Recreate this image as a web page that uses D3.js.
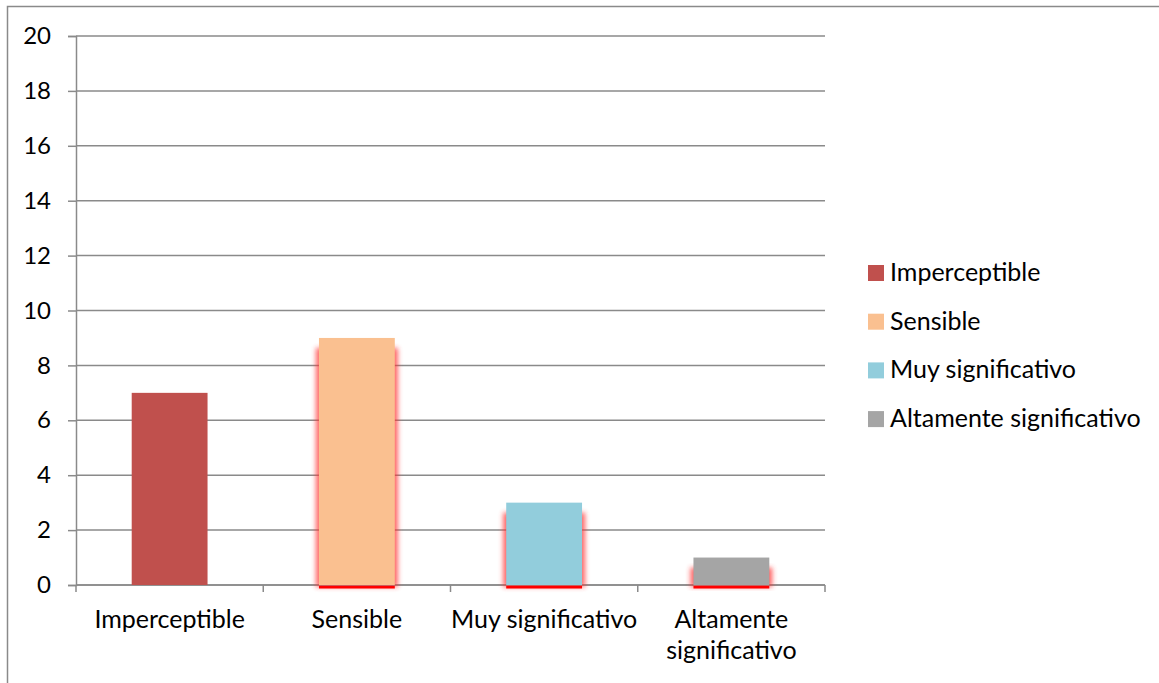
<!DOCTYPE html>
<html>
<head>
<meta charset="utf-8">
<script src="https://cdn.jsdelivr.net/npm/d3@7"></script>
<style>
  body { margin: 0; background: #fff; }
  text { font-family: Lato, "Open Sans", sans-serif; fill: #000; }
</style>
</head>
<body>
<svg id="drawing_region"></svg>
<script>
const categories = ["Imperceptible", "Sensible", "Muy significativo", "Altamente significativo"];
const values = [7, 9, 3, 1];
const colors = ["#C0504D", "#FAC090", "#92CDDC", "#A5A5A5"];
const glow = [false, true, true, true];
const yTicks = [0, 2, 4, 6, 8, 10, 12, 14, 16, 18, 20];

const config = {
    width: 1159,
    height: 683,
    margin: {top: 36, right: 334, bottom: 98, left: 76}
};

const svg = d3.select('#drawing_region')
    .attr('width', config.width)
    .attr('height', config.height);

const inner_width = config.width - config.margin.left - config.margin.right;
const inner_height = config.height - config.margin.top - config.margin.bottom;

// chart frame
svg.append('rect')
    .attr('x', 7.5).attr('y', 6.5)
    .attr('width', 1300).attr('height', 900)
    .attr('fill', '#fff')
    .attr('stroke', '#8a8a8a')
    .attr('stroke-width', 1.5);

const defs = svg.append('defs');
defs.append('filter')
    .attr('id', 'glow')
    .attr('x', '-50%').attr('y', '-20%')
    .attr('width', '200%').attr('height', '140%')
    .append('feGaussianBlur')
    .attr('stdDeviation', 2.5);

const chart = svg.append('g')
    .attr('transform', `translate(${config.margin.left}, ${config.margin.top})`);

const xscale = d3.scaleBand()
    .domain(categories)
    .range([0, inner_width])
    .paddingInner(0.595)
    .paddingOuter(0.2975);

const yscale = d3.scaleLinear()
    .domain([0, 20])
    .range([inner_height, 0]);

// gridlines
chart.append('g')
    .selectAll('line')
    .data(yTicks)
    .join('line')
    .attr('x1', 0).attr('x2', inner_width)
    .attr('y1', d => yscale(d)).attr('y2', d => yscale(d))
    .attr('stroke', '#8a8a8a')
    .attr('stroke-width', 1.5);

// y axis
const yaxis = d3.axisLeft(yscale)
    .tickValues(yTicks)
    .tickSize(8)
    .tickPadding(17)
    .tickFormat(d3.format('d'));

const yaxis_group = chart.append('g').call(yaxis);
yaxis_group.select('.domain').attr('stroke', '#8a8a8a').attr('stroke-width', 1.5);
yaxis_group.selectAll('.tick line').attr('stroke', '#8a8a8a').attr('stroke-width', 1.5);
yaxis_group.selectAll('.tick text')
    .attr('font-size', '24px')
    .attr('font-family', 'Lato, sans-serif')
    .attr('fill', '#000');

// x axis: ticks on band boundaries
const bounds = d3.range(categories.length + 1).map(i => i * inner_width / categories.length);
const xg = chart.append('g').attr('transform', `translate(0, ${inner_height})`);
xg.append('line')
    .attr('x1', 0).attr('x2', inner_width)
    .attr('stroke', '#8a8a8a').attr('stroke-width', 1.5);
xg.selectAll('line.tk')
    .data(bounds)
    .join('line')
    .attr('class', 'tk')
    .attr('x1', d => d).attr('x2', d => d)
    .attr('y1', 0).attr('y2', 7)
    .attr('stroke', '#8a8a8a').attr('stroke-width', 1.5);

const xlabels = [["Imperceptible"], ["Sensible"], ["Muy significativo"], ["Altamente", "significativo"]];
xg.selectAll('text.lbl')
    .data(categories)
    .join('text')
    .attr('class', 'lbl')
    .attr('text-anchor', 'middle')
    .attr('font-size', '25px')
    .attr('x', d => xscale(d) + xscale.bandwidth() / 2)
    .attr('y', 43)
    .each(function(d, i) {
        const lines = xlabels[i];
        d3.select(this).selectAll('tspan')
            .data(lines)
            .join('tspan')
            .attr('x', xscale(d) + xscale.bandwidth() / 2)
            .attr('dy', (l, j) => j === 0 ? 0 : 31)
            .text(l => l);
    });

// glow under some bars
const data = categories.map((c, i) => ({c, v: values[i], color: colors[i], glow: glow[i]}));
chart.selectAll('rect.glow')
    .data(data.filter(d => d.glow))
    .join('rect')
    .attr('class', 'glow')
    .attr('x', d => xscale(d.c) - 3)
    .attr('y', d => yscale(d.v) + 10)
    .attr('width', xscale.bandwidth() + 6)
    .attr('height', d => inner_height - yscale(d.v) - 8)
    .attr('fill', '#ff3030')
    .attr('opacity', 0.75)
    .attr('filter', 'url(#glow)');

chart.selectAll('rect.bar')
    .data(data)
    .join('rect')
    .attr('class', 'bar')
    .attr('x', d => xscale(d.c))
    .attr('y', d => yscale(d.v))
    .attr('width', xscale.bandwidth())
    .attr('height', d => inner_height - yscale(d.v))
    .attr('fill', d => d.color);

chart.selectAll('rect.base')
    .data(data.filter(d => d.glow))
    .join('rect')
    .attr('class', 'base')
    .attr('x', d => xscale(d.c))
    .attr('y', inner_height + 1)
    .attr('width', xscale.bandwidth())
    .attr('height', 2.5)
    .attr('fill', '#ff0000');

// legend
const legend = svg.append('g').attr('transform', 'translate(868, 265)');
const items = legend.selectAll('g')
    .data(data)
    .join('g')
    .attr('transform', (d, i) => `translate(0, ${i * 48.7})`);
items.append('rect')
    .attr('width', 16).attr('height', 16)
    .attr('fill', d => d.color);
items.append('text')
    .attr('x', 22)
    .attr('y', 16)
    .attr('font-size', '25px')
    .text(d => d.c);
</script>
</body>
</html>
